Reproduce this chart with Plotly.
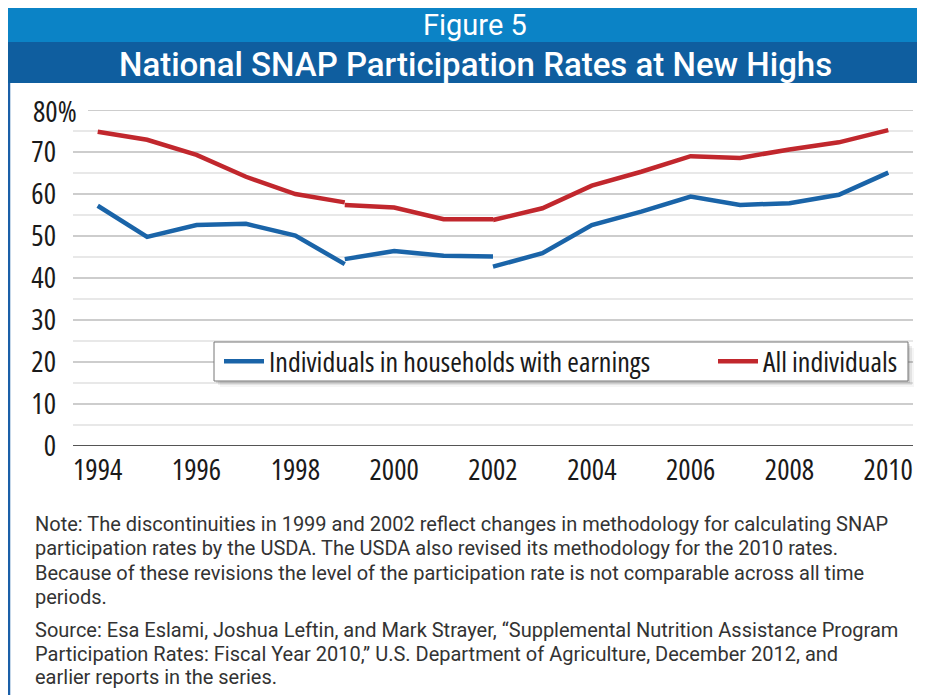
import plotly.graph_objects as go

# ---------------- data ----------------
years_old = [1994, 1995, 1996, 1997, 1998, 1999]
years_mid = [1999, 2000, 2001, 2002]
years_new = [2002, 2003, 2004, 2005, 2006, 2007, 2008, 2009, 2010]

earn_old = [57.2, 49.8, 52.6, 52.9, 50.1, 43.3]
earn_mid = [44.5, 46.4, 45.3, 45.1]
earn_new = [42.7, 45.9, 52.6, 55.8, 59.4, 57.4, 57.8, 59.8, 65.1]

all_old = [74.8, 72.9, 69.3, 64.1, 60.0, 58.0]
all_mid = [57.4, 56.8, 54.0, 54.0]
all_new = [53.8, 56.6, 62.0, 65.3, 69.0, 68.6, 70.6, 72.3, 75.2]

x_ticks = [1994, 1996, 1998, 2000, 2002, 2004, 2006, 2008, 2010]
y_ticks = [0, 10, 20, 30, 40, 50, 60, 70]
y_top_label = "80%"

series_earn = "Individuals in households with earnings"
series_all = "All individuals"
fig_label = "Figure 5"
title = "National SNAP Participation Rates at New Highs"
note_lines = [
    "Note: The discontinuities in 1999 and 2002 reflect changes in methodology for calculating SNAP",
    "participation rates by the USDA. The USDA also revised its methodology for the 2010 rates.",
    "Because of these revisions the level of the participation rate is not comparable across all time",
    "periods.",
]
source_lines = [
    "Source: Esa Eslami, Joshua Leftin, and Mark Strayer, \u201cSupplemental Nutrition Assistance Program",
    "Participation Rates: Fiscal Year 2010,\u201d U.S. Department of Agriculture, December 2012, and",
    "earlier reports in the series.",
]

# ---------------- layout geometry (page pixels; page body has an 8px margin) ----------------
OFF = 8
W, H = 925 - OFF, 695 - OFF
PLOT_L, PLOT_R, PLOT_T, PLOT_B = 73, 905, 110, 446  # page pixels
ML, MR, MT, MB = PLOT_L - OFF, 925 - PLOT_R - OFF, PLOT_T - OFF, 695 - PLOT_B
PW = W - ML - MR
PH = H - MT - MB
BLUE = "#1a64a8"
RED = "#c1272d"
COND = "Open Sans"
NOTE_FONT = "Roboto"


def cond(t):
    return '<span style="font-stretch:condensed">%s</span>' % t


def px(x):
    return (x - OFF - ML) / PW


def py(y):
    return (H - MB - (y - OFF)) / PH


fig = go.Figure()

segments = [
    (years_old, earn_old, BLUE, series_earn, True, "legend"),
    (years_mid, earn_mid, BLUE, series_earn, False, "legend"),
    (years_new, earn_new, BLUE, series_earn, False, "legend"),
    (years_old, all_old, RED, series_all, True, "legend2"),
    (years_mid, all_mid, RED, series_all, False, "legend2"),
    (years_new, all_new, RED, series_all, False, "legend2"),
]
for xs, ys, col, name, show, leg in segments:
    fig.add_trace(go.Scatter(
        x=xs, y=ys, mode="lines", name=cond(name), showlegend=show, legend=leg,
        line=dict(color=col, width=4.5), hoverinfo="skip",
    ))

shapes = []
# gridlines
for v in range(5, 80, 5):
    shapes.append(dict(type="line", xref="paper", yref="y", x0=0, x1=1, y0=v, y1=v,
                       line=dict(color="#bdbdbd" if v % 10 == 0 else "#e0e0e0", width=1.5),
                       layer="below"))
shapes.append(dict(type="line", xref="paper", yref="y", x0=px(88), x1=1, y0=80, y1=80,
                   line=dict(color="#bdbdbd", width=1.5), layer="below"))
shapes.append(dict(type="line", xref="paper", yref="y", x0=0, x1=1, y0=0, y1=0,
                   line=dict(color="#555555", width=2), layer="above"))

# header bands
shapes.append(dict(type="rect", xref="paper", yref="paper", x0=px(5), x1=px(925), y0=py(42), y1=py(5),
                   fillcolor="#0b83c6", line=dict(width=0), layer="below"))
shapes.append(dict(type="rect", xref="paper", yref="paper", x0=px(5), x1=px(922), y0=py(83), y1=py(42),
                   fillcolor="#0f5e9f", line=dict(width=0), layer="below"))
# left frame line
shapes.append(dict(type="line", xref="paper", yref="paper", x0=px(9), x1=px(9), y0=py(83), y1=py(695),
                   line=dict(color="#1a5fa8", width=2.5)))

# legend box with soft shadow
for i, op in enumerate([0.10, 0.07, 0.04]):
    o = 2 + i * 2
    shapes.append(dict(type="rect", xref="paper", yref="paper",
                       x0=px(214 + o), x1=px(908 + o), y0=py(381 + o), y1=py(342 + o),
                       fillcolor="#000000", opacity=op, line=dict(width=0), layer="above"))
shapes.append(dict(type="rect", xref="paper", yref="paper",
                   x0=px(214), x1=px(908), y0=py(381), y1=py(342),
                   fillcolor="white", line=dict(color="#777777", width=1), layer="above"))

annotations = [
    dict(text=fig_label, xref="paper", yref="paper", x=px(475), y=py(25), showarrow=False,
         xanchor="center", yanchor="middle", font=dict(family=NOTE_FONT, size=29, color="white")),
    dict(text=title, xref="paper", yref="paper", x=px(475), y=py(64), showarrow=False,
         xanchor="center", yanchor="middle",
         font=dict(family=NOTE_FONT, size=33, color="white", weight=500)),
    dict(text=cond(y_top_label), xref="paper", yref="y", x=px(31), y=80, showarrow=False,
         xanchor="left", yanchor="middle", font=dict(family=COND, size=29, color="#1a1a1a")),
]
for i, t in enumerate(note_lines):
    annotations.append(dict(text=t, xref="paper", yref="paper", x=px(33), y=py(524 + 24.3 * i),
                            showarrow=False, xanchor="left", yanchor="middle",
                            font=dict(family=NOTE_FONT, size=20, color="#333333")))
for i, t in enumerate(source_lines):
    annotations.append(dict(text=t, xref="paper", yref="paper", x=px(33), y=py(630 + 23.5 * i),
                            showarrow=False, xanchor="left", yanchor="middle",
                            font=dict(family=NOTE_FONT, size=20, color="#333333")))

legend_common = dict(orientation="h", yanchor="middle", xanchor="left", bgcolor="rgba(0,0,0,0)",
                     borderwidth=0, itemwidth=40,
                     font=dict(family=COND, size=28, color="#1a1a1a"))

fig.update_layout(
    width=W, height=H,
    margin=dict(l=ML, r=MR, t=MT, b=MB),
    paper_bgcolor="white", plot_bgcolor="white",
    shapes=shapes, annotations=annotations,
    xaxis=dict(range=[1993.5, 2010.5], tickvals=x_ticks, ticktext=[cond(str(v)) for v in x_ticks],
               showgrid=False, zeroline=False,
               showline=False, ticks="", tickfont=dict(family=COND, size=29, color="#1a1a1a"),
               ticklabelstandoff=4),
    yaxis=dict(range=[0, 80], tickvals=y_ticks, ticktext=[cond(str(v)) for v in y_ticks],
               showgrid=False, zeroline=False,
               showline=False, ticks="", tickfont=dict(family=COND, size=29, color="#1a1a1a"),
               ticklabelstandoff=16),
    legend=dict(x=px(219), y=py(361.5), **legend_common),
    legend2=dict(x=px(713), y=py(361.5), **legend_common),
    showlegend=True,
)

fig.write_html("out.html")
